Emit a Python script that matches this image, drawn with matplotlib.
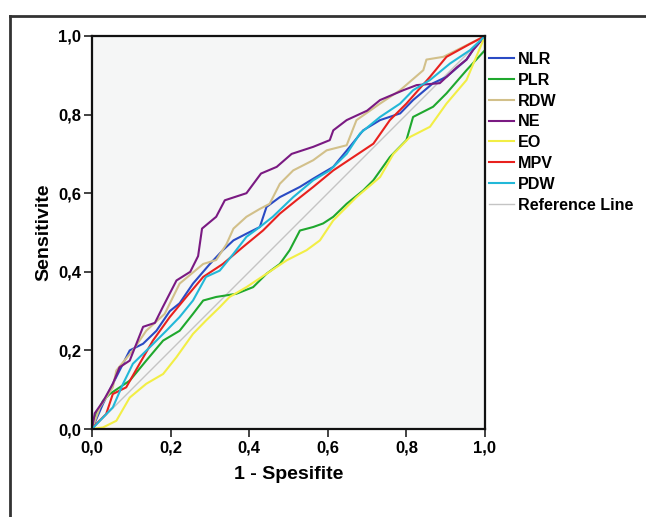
import numpy as np
import matplotlib.pyplot as plt
from matplotlib.lines import Line2D

plt.rcParams['font.family'] = ['Liberation Sans', 'DejaVu Sans']
plt.rcParams['font.weight'] = 'bold'

# ROC curves (1 - spesifite, sensitivite)
nlr_x = [0, 0.028, 0.053, 0.096, 0.13, 0.164, 0.198, 0.223, 0.257, 0.30, 0.333, 0.36, 0.393, 0.427,
         0.444, 0.478, 0.529, 0.563, 0.614, 0.656, 0.69, 0.733, 0.784, 0.817, 0.868, 0.902, 0.953, 0.97, 1]
nlr_y = [0, 0.064, 0.115, 0.2, 0.217, 0.25, 0.30, 0.32, 0.37, 0.42, 0.455, 0.48, 0.497, 0.514,
         0.565, 0.59, 0.616, 0.637, 0.667, 0.718, 0.76, 0.786, 0.803, 0.837, 0.88, 0.896, 0.94, 0.965, 1]

plr_x = [0, 0.011, 0.028, 0.045, 0.096, 0.138, 0.181, 0.223, 0.257, 0.283, 0.316, 0.367, 0.41, 0.444,
         0.478, 0.503, 0.529, 0.563, 0.588, 0.614, 0.648, 0.69, 0.716, 0.758, 0.8, 0.817, 0.868, 0.902,
         0.953, 1, 1]
plr_y = [0, 0.038, 0.072, 0.089, 0.123, 0.174, 0.225, 0.25, 0.293, 0.327, 0.336, 0.344, 0.361, 0.395,
         0.42, 0.455, 0.505, 0.514, 0.523, 0.54, 0.573, 0.607, 0.633, 0.692, 0.735, 0.794, 0.82, 0.854,
         0.913, 0.964, 1]

rdw_x = [0, 0.02, 0.053, 0.062, 0.104, 0.138, 0.185, 0.223, 0.283, 0.316, 0.342, 0.36, 0.393, 0.427,
         0.452, 0.478, 0.512, 0.563, 0.597, 0.648, 0.673, 0.733, 0.784, 0.843, 0.851, 0.894, 0.936, 1]
rdw_y = [0, 0.055, 0.106, 0.149, 0.2, 0.25, 0.293, 0.37, 0.42, 0.43, 0.47, 0.51, 0.54, 0.56,
         0.573, 0.624, 0.658, 0.684, 0.709, 0.722, 0.786, 0.828, 0.862, 0.913, 0.94, 0.947, 0.968, 1]

ne_x = [0, 0.007, 0.028, 0.053, 0.07, 0.096, 0.13, 0.16, 0.18, 0.215, 0.25, 0.27, 0.28, 0.316, 0.338,
        0.393, 0.43, 0.47, 0.508, 0.563, 0.605, 0.614, 0.648, 0.70, 0.733, 0.792, 0.826, 0.885, 0.928,
        0.953, 0.97, 1]
ne_y = [0, 0.04, 0.07, 0.115, 0.157, 0.174, 0.26, 0.27, 0.31, 0.378, 0.40, 0.44, 0.51, 0.54, 0.582,
        0.60, 0.65, 0.667, 0.70, 0.718, 0.735, 0.76, 0.786, 0.81, 0.837, 0.862, 0.875, 0.88, 0.92,
        0.94, 0.965, 1]

eo_x = [0, 0.028, 0.062, 0.096, 0.138, 0.181, 0.215, 0.257, 0.29, 0.325, 0.35, 0.393, 0.444, 0.495,
        0.546, 0.58, 0.614, 0.673, 0.733, 0.767, 0.809, 0.86, 0.902, 0.953, 1]
eo_y = [0, 0.004, 0.021, 0.08, 0.115, 0.14, 0.183, 0.242, 0.276, 0.31, 0.336, 0.361, 0.395, 0.429,
        0.455, 0.48, 0.531, 0.59, 0.641, 0.70, 0.743, 0.769, 0.828, 0.888, 1]

mpv_x = [0, 0.011, 0.036, 0.053, 0.087, 0.121, 0.155, 0.198, 0.24, 0.283, 0.333, 0.384, 0.435, 0.478,
         0.52, 0.563, 0.614, 0.665, 0.716, 0.758, 0.8, 0.86, 0.902, 0.962, 1]
mpv_y = [0, 0.013, 0.038, 0.089, 0.106, 0.166, 0.225, 0.285, 0.336, 0.387, 0.42, 0.463, 0.505, 0.548,
         0.582, 0.616, 0.658, 0.692, 0.726, 0.786, 0.828, 0.896, 0.947, 0.98, 1]

pdw_x = [0, 0.02, 0.053, 0.079, 0.104, 0.147, 0.189, 0.223, 0.257, 0.29, 0.325, 0.36, 0.393, 0.427,
         0.46, 0.512, 0.563, 0.605, 0.648, 0.682, 0.733, 0.784, 0.817, 0.86, 0.911, 0.962, 1]
pdw_y = [0, 0.021, 0.055, 0.115, 0.166, 0.208, 0.25, 0.285, 0.327, 0.387, 0.403, 0.446, 0.489, 0.514,
         0.54, 0.59, 0.633, 0.658, 0.70, 0.752, 0.794, 0.828, 0.862, 0.888, 0.93, 0.964, 1]

series = [
    ("NLR", nlr_x, nlr_y, "#2a4bc4"),
    ("PLR", plr_x, plr_y, "#1fa82e"),
    ("RDW", rdw_x, rdw_y, "#d2c08a"),
    ("NE", ne_x, ne_y, "#7a1a82"),
    ("EO", eo_x, eo_y, "#f2ee45"),
    ("MPV", mpv_x, mpv_y, "#e8211e"),
    ("PDW", pdw_x, pdw_y, "#22b8d8"),
]
ticks = [0, 0.2, 0.4, 0.6, 0.8, 1.0]
tick_labels = ["0,0", "0,2", "0,4", "0,6", "0,8", "1,0"]

fig = plt.figure(figsize=(6.46, 5.17), dpi=100)
W, H = 646, 517
ax = fig.add_axes([92 / W, 1 - 429 / H, 393 / W, 393 / H])
ax.set_facecolor("#f5f6f6")

# outer frame (left and top edges visible)
fig.add_artist(Line2D([9.5 / W, 9.5 / W], [0, 1 - 15.5 / H], transform=fig.transFigure,
                      color="#333333", lw=2))
fig.add_artist(Line2D([9.5 / W, 1], [1 - 15.5 / H, 1 - 15.5 / H], transform=fig.transFigure,
                      color="#333333", lw=2))

ax.plot([0, 1], [0, 1], color="#c4c4c4", lw=1.0, label="Reference Line", zorder=1)
for name, xs, ys, col in series:
    ax.plot(xs, ys, color=col, lw=1.5, label=name, zorder=2)

ax.set_xlim(0, 1)
ax.set_ylim(0, 1)
ax.set_xticks(ticks)
ax.set_xticklabels(tick_labels)
ax.set_yticks(ticks)
ax.set_yticklabels(tick_labels)
ax.tick_params(labelsize=12, length=6, width=1.2, color="#222222", pad=2)
for s in ax.spines.values():
    s.set_linewidth(1.6)
    s.set_color("#111111")

ax.set_xlabel("1 - Spesifite", fontsize=14, fontweight="bold", labelpad=8)
ax.set_ylabel("Sensitivite", fontsize=14, fontweight="bold", labelpad=4)

handles, labels = ax.get_legend_handles_labels()
order = [1, 2, 3, 4, 5, 6, 7, 0]
leg = ax.legend([handles[i] for i in order], [labels[i] for i in order],
                loc="upper left", bbox_to_anchor=(0.99, 0.98), frameon=False,
                fontsize=11.6, handlelength=1.55, handletextpad=0.25, labelspacing=0.36,
                borderaxespad=0.1)
for t in leg.get_texts():
    t.set_fontweight("bold")

fig.savefig("out.png", dpi=100)
